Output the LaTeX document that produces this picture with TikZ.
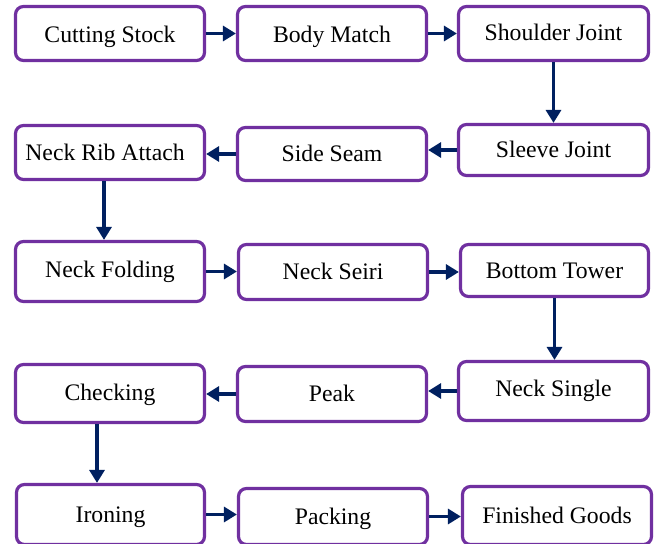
\documentclass[tikz,border=0pt]{standalone}
\usepackage{fontspec}
\setmainfont{Liberation Serif}
\usetikzlibrary{arrows.meta,calc}
\definecolor{boxline}{HTML}{7030A0}
\definecolor{flow}{HTML}{002060}
\tikzset{
  stage/.style={draw=boxline, line width=3.2pt, rounded corners=8pt, fill=white,
    minimum width=189pt, inner sep=0pt, align=center,
    text height=15pt, text depth=0pt,
    font=\fontsize{23.7}{28}\selectfont},
  arr/.style={draw=flow, line width=3.2pt,
    -{Triangle[length=13pt,width=15pt]}}
}
\begin{document}
\begin{tikzpicture}[x=1pt,y=-1pt]
\useasboundingbox (0,0) rectangle (655,543);
\clip (0,0) rectangle (655,543);
% row 1
\node[stage, minimum height=54pt, text height=18pt] (cs) at (110,33.5) {Cutting Stock};
\node[stage, minimum height=54pt, text height=18pt] (bm) at (332,33.5) {Body Match};
\node[stage, minimum height=54pt, minimum width=190pt] (sj) at (553.5,33.5) {Shoulder Joint};
% row 2
\node[stage, minimum height=54pt] (nra) at (110,152.5) {\hspace*{-10pt}Neck Rib Attach};
\node[stage, minimum height=53pt] (ss) at (332,154) {Side Seam};
\node[stage, minimum height=51pt, minimum width=190pt] (slj) at (553.5,150) {Sleeve Joint};
% row 3
\node[stage, minimum height=60pt, text height=11pt] (nf) at (110,271.5) {Neck Folding};
\node[stage, minimum height=55pt] (ns) at (333,272) {Neck Seiri};
\node[stage, minimum height=52pt, minimum width=188pt] (bt) at (554.5,270.5) {Bottom Tower};
% row 4
\node[stage, minimum height=58pt, text height=13pt] (ck) at (110,393.5) {Checking};
\node[stage, minimum height=55pt] (pk) at (332,394) {Peak};
\node[stage, minimum height=59pt, minimum width=190pt, text height=11pt] (nsg) at (553.5,391) {Neck Single};
% row 5
\node[stage, minimum height=60pt, minimum width=188pt] (ir) at (110.5,514.5) {Ironing};
\node[stage, minimum height=56pt] (pa) at (333,516.5) {Packing};
\node[stage, minimum height=58pt] (fg) at (557,515.5) {Finished Goods};
% connectors
\draw[arr] (cs.east) -- (cs.east -| bm.west);
\draw[arr] (bm.east) -- (bm.east -| sj.west);
\draw[arr] (sj.south) -- (sj.south |- slj.north);
\draw[arr] (slj.west) -- (slj.west -| ss.east);
\draw[arr] (ss.west) -- (ss.west -| nra.east);
\draw[arr] ([xshift=-6pt]nra.south) -- ([xshift=-6pt]nra.south |- nf.north);
\draw[arr] (nf.east) -- (nf.east -| ns.west);
\draw[arr] (ns.east) -- (ns.east -| bt.west);
\draw[arr] (bt.south) -- (bt.south |- nsg.north);
\draw[arr] (nsg.west) -- (nsg.west -| pk.east);
\draw[arr] (pk.west) -- (pk.west -| ck.east);
\draw[arr] ([xshift=-13pt]ck.south) -- ([xshift=-13pt]ck.south |- ir.north);
\draw[arr] (ir.east) -- (ir.east -| pa.west);
\draw[arr] (pa.east) -- (pa.east -| fg.west);
\end{tikzpicture}
\end{document}
